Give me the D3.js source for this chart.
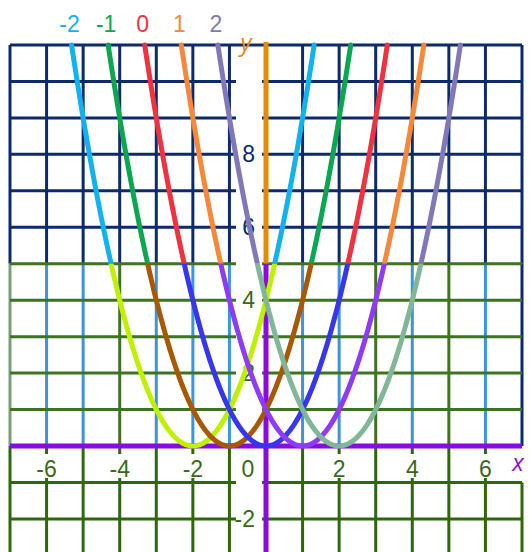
<!DOCTYPE html>
<html>
<head>
  <meta charset="utf-8">
  <script src="https://cdn.jsdelivr.net/npm/d3@7/dist/d3.min.js"></script>
  <style>
    body { margin: 0; background: #fff; }
    text { font-family: "Liberation Sans", Arial, sans-serif; font-size: 23px; }
    text.axisName { font-family: "Open Sans", sans-serif; font-style: italic; font-size: 24px; }
  </style>
</head>
<body>
  <svg width="530" height="552"></svg>
  <script>
    // shifts h of the curves y = (x - h)^2
    const shifts = [-2, -1, 0, 1, 2];
    const shiftLabels = ["-2", "-1", "0", "1", "2"];
    const upperColors = ["#12b2f0", "#0aa650", "#ef3140", "#f7883a", "#8178ba"];
    const lowerColors = ["#bff000", "#a85800", "#3636ef", "#8e3af6", "#80b797"];
    const xTicks = [-6, -4, -2, 0, 2, 4, 6];
    const yTicks = [-2, 2, 4, 6, 8];
    const xDomain = [-7, 7];
    const yDomain = [-3, 11];
    const split = 5; // level where the picture changes colour

    const svg = d3.select("svg");
    const x = d3.scaleLinear().domain(xDomain).range([10, 522]);
    const y = d3.scaleLinear().domain([0, 11]).range([446, 45]);

    const navy = "#0c2a6c", green = "#3d7420", dark = "#2f680c", blue = "#3a94de";
    const greenCols = [-4, 3, 5]; // band columns that came out green
    const gridX = d3.range(xDomain[0], xDomain[1] + 1);
    const gridYTop = d3.range(split + 1, yDomain[1] + 1);
    const gridYBand = d3.range(1, split + 1);
    const gridYBelow = d3.range(yDomain[0], 0);

    const g = svg.append("g");
    // upper grid (navy)
    g.selectAll(null).data(gridX).enter().append("line")
      .attr("x1", d => x(d)).attr("x2", d => x(d))
      .attr("y1", y(yDomain[1])).attr("y2", y(split))
      .attr("stroke", navy).attr("stroke-width", 3);
    g.selectAll(null).data(gridYTop).enter().append("line")
      .attr("x1", x(xDomain[0])).attr("x2", x(xDomain[1]))
      .attr("y1", d => y(d)).attr("y2", d => y(d))
      .attr("stroke", navy).attr("stroke-width", 3);

    // band 0..5 : mostly blue verticals, green horizontals
    g.selectAll(null).data(gridX).enter().append("line")
      .attr("x1", d => x(d)).attr("x2", d => x(d))
      .attr("y1", y(split)).attr("y2", y(0))
      .attr("stroke", d => d === xDomain[0] ? "#7a9f78"
        : d === xDomain[1] ? navy
        : greenCols.includes(d) ? green : blue)
      .attr("stroke-width", 3);
    g.selectAll(null).data(gridYBand).enter().append("line")
      .attr("x1", x(xDomain[0])).attr("x2", x(xDomain[1]))
      .attr("y1", d => y(d)).attr("y2", d => y(d))
      .attr("stroke", green).attr("stroke-width", 3);

    // below the x axis : all green
    g.selectAll(null).data(gridX.filter(d => d < xDomain[1])).enter().append("line")
      .attr("x1", d => x(d)).attr("x2", d => x(d))
      .attr("y1", y(0)).attr("y2", y(yDomain[0]))
      .attr("stroke", dark).attr("stroke-width", 3);
    g.append("line")
      .attr("x1", x(xDomain[1])).attr("x2", x(xDomain[1]))
      .attr("y1", y(-1)).attr("y2", y(yDomain[0]))
      .attr("stroke", dark).attr("stroke-width", 3);
    g.selectAll(null).data(gridYBelow).enter().append("line")
      .attr("x1", x(xDomain[0])).attr("x2", x(xDomain[1]))
      .attr("y1", d => y(d)).attr("y2", d => y(d))
      .attr("stroke", dark).attr("stroke-width", 3);

    // tick label backgrounds
    const yGaps = d3.range(yDomain[0] + 1, yDomain[1]).filter(d => d !== 0);
    g.selectAll(null).data(yGaps).enter().append("rect")
      .attr("x", x(0) - 30).attr("width", 26)
      .attr("y", d => y(d) - 11).attr("height", 22)
      .attr("fill", "#fff");
    g.selectAll(null).data(xTicks).enter().append("rect")
      .attr("x", d => x(d) - (d === 0 ? 30 : 14)).attr("width", d => d === 0 ? 26 : 28)
      .attr("y", y(0) + 8).attr("height", 24)
      .attr("fill", "#fff");

    // y tick labels
    svg.selectAll(null).data(yTicks).enter().append("text")
      .attr("x", x(0) - 11).attr("y", d => y(d) + 8)
      .attr("text-anchor", "end")
      .attr("fill", d => d > split ? navy : "#3a6a18")
      .text(d => d);
    // x tick labels
    svg.selectAll(null).data(xTicks).enter().append("text")
      .attr("x", d => d === 0 ? x(0) - 18 : x(d))
      .attr("y", y(0) + 31)
      .attr("text-anchor", "middle")
      .attr("fill", "#3a6a18")
      .text(d => d);

    // axes
    svg.append("line")
      .attr("x1", x(0)).attr("x2", x(0))
      .attr("y1", y(yDomain[1]) - 3).attr("y2", y(split))
      .attr("stroke", "#e38b06").attr("stroke-width", 5);
    svg.append("line")
      .attr("x1", x(0)).attr("x2", x(0))
      .attr("y1", y(split)).attr("y2", y(yDomain[0]))
      .attr("stroke", "#8a0be0").attr("stroke-width", 5);
    svg.append("line")
      .attr("x1", x(xDomain[0])).attr("x2", x(xDomain[1]))
      .attr("y1", y(0)).attr("y2", y(0))
      .attr("stroke", "#8a0be0").attr("stroke-width", 5);

    svg.append("text").attr("class", "axisName")
      .attr("x", x(0) - 20).attr("y", 51)
      .attr("text-anchor", "middle").attr("fill", "#e38b06").text("y");
    svg.append("text").attr("class", "axisName")
      .attr("x", x(xDomain[1]) - 4).attr("y", y(0) + 25)
      .attr("text-anchor", "middle").attr("fill", "#8a0be0").text("x");

    // clips for the two colour zones
    const defs = svg.append("defs");
    defs.append("clipPath").attr("id", "upper").append("rect")
      .attr("x", 0).attr("y", 0).attr("width", 530).attr("height", y(split));
    defs.append("clipPath").attr("id", "lower").append("rect")
      .attr("x", 0).attr("y", y(split)).attr("width", 530).attr("height", 552);

    const line = d3.line().x(d => x(d[0])).y(d => y(d[1]));
    const yMax = yDomain[1];
    const curve = h => {
      const r = Math.sqrt(yMax);
      return d3.range(0, 201).map(i => {
        const xv = h - r + (2 * r) * i / 200;
        return [xv, (xv - h) * (xv - h)];
      });
    };

    shifts.forEach((h, i) => {
      svg.append("path")
        .attr("d", line(curve(h)))
        .attr("fill", "none").attr("stroke", upperColors[i])
        .attr("stroke-width", 5).attr("stroke-linecap", "round")
        .attr("clip-path", "url(#upper)");
    });
    shifts.forEach((h, i) => {
      svg.append("path")
        .attr("d", line(curve(h)))
        .attr("fill", "none").attr("stroke", lowerColors[i])
        .attr("stroke-width", 5)
        .attr("clip-path", "url(#lower)");
    });

    // curve names at the top
    svg.selectAll(null).data(shifts).enter().append("text")
      .attr("x", h => x(h - Math.sqrt(yMax)) - 2)
      .attr("y", 32)
      .attr("text-anchor", "middle")
      .attr("fill", (h, i) => upperColors[i])
      .text((h, i) => shiftLabels[i]);
  </script>
</body>
</html>
